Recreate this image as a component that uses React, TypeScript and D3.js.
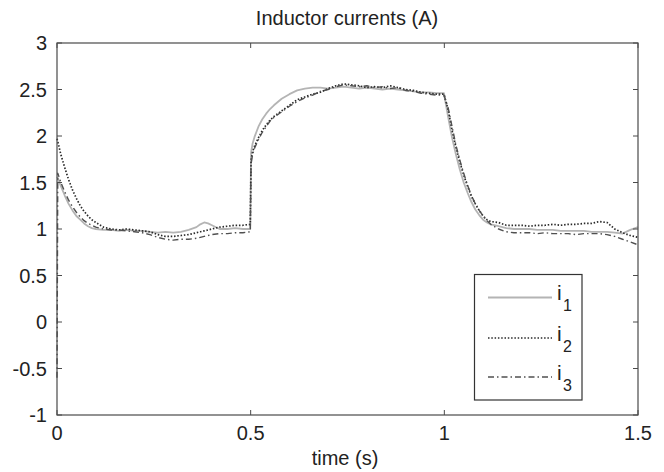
import React from "react";
import * as d3 from "d3";

const T = [0, 0.002, 0.01, 0.02, 0.03, 0.04, 0.05, 0.06, 0.07, 0.08, 0.09, 0.1,
  0.12, 0.14, 0.16, 0.18, 0.2, 0.22, 0.24, 0.26, 0.28, 0.3, 0.32, 0.34, 0.36,
  0.37, 0.38, 0.39, 0.4, 0.42, 0.44, 0.46, 0.48, 0.499, 0.501, 0.505,
  0.51, 0.52, 0.53, 0.54, 0.55, 0.56,
  0.58, 0.6, 0.62, 0.64, 0.66, 0.68, 0.7, 0.72, 0.74, 0.76, 0.78, 0.8, 0.82, 0.84, 0.86, 0.88, 0.9, 0.92, 0.94, 0.96, 0.98,
  0.999, 1.01, 1.02, 1.03, 1.04, 1.05, 1.06, 1.07, 1.08, 1.09, 1.1, 1.11, 1.12,
  1.14, 1.16, 1.18, 1.2, 1.22, 1.24, 1.26, 1.28, 1.3, 1.32, 1.34, 1.36, 1.38, 1.4, 1.42, 1.44, 1.46, 1.48, 1.5];

const I1 = [1.56, 1.55, 1.46, 1.36, 1.27, 1.2, 1.14, 1.1, 1.06, 1.03, 1.01, 1.0,
  0.99, 0.99, 0.98, 0.99, 0.98, 0.98, 0.97, 0.96, 0.97, 0.96, 0.97, 0.99, 1.02,
  1.05, 1.07, 1.06, 1.04, 1.0, 1.0, 1.01, 1.0, 1.0, 1.82, 1.92,
  1.99, 2.1, 2.18, 2.24, 2.29, 2.33,
  2.4, 2.45, 2.49, 2.51, 2.52, 2.52, 2.51, 2.52, 2.53, 2.52, 2.51, 2.52, 2.51, 2.5, 2.51, 2.5, 2.49, 2.48, 2.47, 2.47, 2.46,
  2.46, 2.2, 1.98, 1.8, 1.64, 1.5, 1.39, 1.29, 1.21, 1.15, 1.1, 1.07, 1.05,
  1.03, 1.01, 1.0, 1.0, 1.0, 0.99, 0.99, 0.99, 0.98, 0.98, 0.98, 0.98, 0.97, 0.97, 0.97, 0.96, 0.95, 0.99, 1.02];

const I2 = [1.97, 1.94, 1.8, 1.66, 1.53, 1.42, 1.33, 1.25, 1.19, 1.14, 1.1, 1.07,
  1.02, 1.0, 0.99, 1.0, 0.99, 0.98, 0.97, 0.94, 0.92, 0.92, 0.93, 0.94, 0.96,
  0.97, 0.98, 0.99, 1.0, 1.02, 1.03, 1.04, 1.04, 1.05, 1.74, 1.83,
  1.89, 1.98, 2.06, 2.12, 2.17, 2.21,
  2.27, 2.33, 2.39, 2.42, 2.45, 2.47, 2.51, 2.54, 2.56, 2.55, 2.54, 2.52, 2.53, 2.52, 2.54, 2.52, 2.5, 2.49, 2.47, 2.46, 2.45,
  2.45, 2.28, 2.06, 1.88, 1.72, 1.58, 1.46, 1.35, 1.27, 1.2, 1.14, 1.1, 1.08,
  1.07, 1.04, 1.04, 1.04, 1.03, 1.04, 1.04, 1.05, 1.04, 1.05, 1.05, 1.06, 1.06, 1.08, 1.07, 1.0, 0.96, 0.93, 0.91];

const I3 = [-0.6, 1.6, 1.5, 1.4, 1.31, 1.24, 1.18, 1.13, 1.09, 1.06, 1.04, 1.02,
  1.0, 0.99, 0.99, 0.98, 0.97, 0.96, 0.94, 0.91, 0.89, 0.88, 0.89, 0.89, 0.9,
  0.91, 0.92, 0.93, 0.94, 0.95, 0.95, 0.96, 0.96, 0.97, 1.7, 1.8,
  1.87, 1.96, 2.04, 2.1, 2.16, 2.2,
  2.26, 2.32, 2.37, 2.41, 2.44, 2.48, 2.5, 2.53, 2.55, 2.54, 2.53, 2.54, 2.52, 2.53, 2.51, 2.52, 2.49, 2.48, 2.46, 2.45, 2.44,
  2.44, 2.3, 2.1, 1.9, 1.74, 1.6, 1.47, 1.36, 1.27, 1.2, 1.14, 1.09, 1.05,
  1.0, 0.97, 0.96, 0.96, 0.96, 0.95, 0.96, 0.95, 0.95, 0.95, 0.94, 0.95, 0.95, 0.95, 0.94, 0.92, 0.89, 0.86, 0.83];

const X_TICKS = [0, 0.5, 1, 1.5];
const X_TICK_LABELS = ["0", "0.5", "1", "1.5"];
const Y_TICKS = [-1, -0.5, 0, 0.5, 1, 1.5, 2, 2.5, 3];
const Y_TICK_LABELS = ["-1", "-0.5", "0", "0.5", "1", "1.5", "2", "2.5", "3"];
const SERIES_NAMES = ["1", "2", "3"];

const W = 664, H = 472;
const L = 57, R = 638, TOP = 43, BOT = 415;
const FONT = "'Liberation Sans', Arial, Helvetica, sans-serif";

export default function App() {
  const x = d3.scaleLinear().domain([0, 1.5]).range([L, R]);
  const y = d3.scaleLinear().domain([-1, 3]).range([BOT, TOP]);
  const line = d3.line<number>().x((_, i) => x(T[i])).y((v) => y(v));

  const styles = [
    { stroke: "#b4b4b4", width: 1.8, dash: undefined as string | undefined },
    { stroke: "#2a2a2a", width: 1.7, dash: "1.5 1.8" },
    { stroke: "#505050", width: 1.4, dash: "6 3 1.5 3" },
  ];
  const data = [I1, I2, I3];
  const axisColor = "#4a4a4a";
  const textColor = "#222";
  const legX0 = 474.5, legX1 = 582, legY0 = 274.5, legY1 = 400;
  const legRows = [297.5, 338, 377];

  return (
    <div style={{ position: "absolute", left: 0, top: 0 }}>
      <svg width={W} height={H} style={{ display: "block", background: "#fff" }}>
        <rect x={0} y={0} width={W} height={H} fill="#fff" />
        <g fill="none">
          {data.map((d, k) => (
            <path key={k} d={line(d) || ""} stroke={styles[k].stroke}
              strokeWidth={styles[k].width} strokeDasharray={styles[k].dash}
              strokeLinejoin="round" />
          ))}
        </g>
        <rect x={L} y={TOP} width={R - L} height={BOT - TOP} fill="none" stroke={axisColor} strokeWidth={1.2} />
        {X_TICKS.map((t, i) => (
          <g key={"xt" + i}>
            <line x1={x(t)} x2={x(t)} y1={BOT} y2={BOT - 5} stroke={axisColor} />
            <line x1={x(t)} x2={x(t)} y1={TOP} y2={TOP + 5} stroke={axisColor} />
            <text x={x(t)} y={440} textAnchor="middle" fontFamily={FONT} fontSize={20} fill={textColor}>
              {X_TICK_LABELS[i]}
            </text>
          </g>
        ))}
        {Y_TICKS.map((v, i) => (
          <g key={"yt" + i}>
            <line x1={L} x2={L + 5} y1={y(v)} y2={y(v)} stroke={axisColor} />
            <line x1={R} x2={R - 5} y1={y(v)} y2={y(v)} stroke={axisColor} />
            <text x={47} y={y(v) + 7} textAnchor="end" fontFamily={FONT} fontSize={20} fill={textColor}>
              {Y_TICK_LABELS[i]}
            </text>
          </g>
        ))}
        <text x={347} y={25} textAnchor="middle" fontFamily={FONT} fontSize={20} fill={textColor}>
          Inductor currents (A)
        </text>
        <text x={345} y={465} textAnchor="middle" fontFamily={FONT} fontSize={20} fill={textColor}>
          time (s)
        </text>
        <rect x={legX0} y={legY0} width={legX1 - legX0} height={legY1 - legY0} fill="#fff" stroke="#333" strokeWidth={1.2} />
        {SERIES_NAMES.map((n, k) => (
          <g key={"lg" + k}>
            <line x1={488} x2={552} y1={legRows[k]} y2={legRows[k]} stroke={styles[k].stroke}
              strokeWidth={styles[k].width} strokeDasharray={styles[k].dash} />
            <text x={557} y={legRows[k] + 2.5} fontFamily={FONT} fontSize={21} fill={textColor}>i</text>
            <text x={563} y={legRows[k] + 13.5} fontFamily={FONT} fontSize={16} fill={textColor}>{n}</text>
          </g>
        ))}
      </svg>
    </div>
  );
}
